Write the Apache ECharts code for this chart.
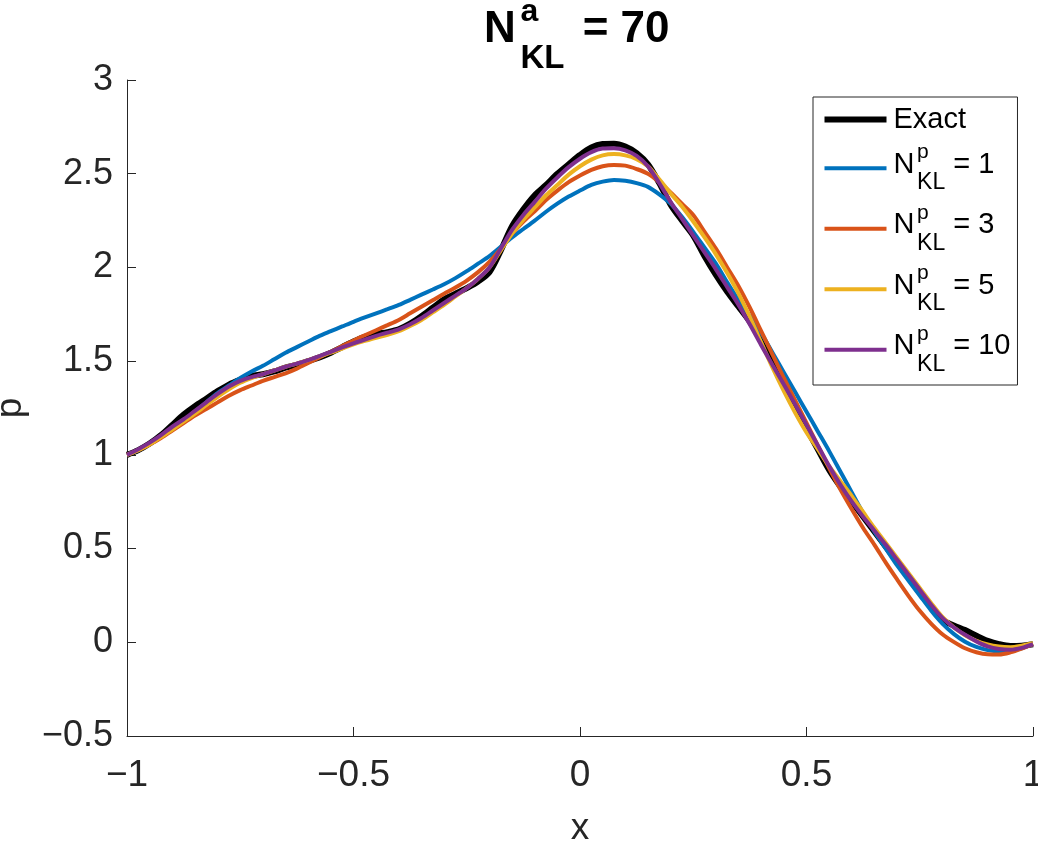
<!DOCTYPE html>
<html><head><meta charset="utf-8">
<script src="https://cdn.jsdelivr.net/npm/echarts@6/dist/echarts.min.js"></script>
<style>html,body{margin:0;padding:0;background:#fff}#c{width:1038px;height:844px}</style>
</head><body><div id="c"></div>
<script>
// ---- data (x step 0.025) ----
const xs = [-1,-0.975,-0.95,-0.925,-0.9,-0.875,-0.85,-0.825,-0.8,-0.775,-0.75,-0.725,-0.7,-0.675,-0.65,-0.625,-0.6,-0.575,-0.55,-0.525,
            -0.5,-0.475,-0.45,-0.425,-0.4,-0.375,-0.35,-0.325,-0.3,-0.275,-0.25,-0.225,-0.2,-0.175,-0.15,-0.125,-0.1,-0.075,-0.05,-0.025,
            0,0.025,0.05,0.075,0.1,0.125,0.15,0.175,0.2,0.225,0.25,0.275,0.3,0.325,0.35,0.375,0.4,0.425,0.45,0.475,
            0.5,0.525,0.55,0.575,0.6,0.625,0.65,0.675,0.7,0.725,0.75,0.775,0.8,0.825,0.85,0.875,0.9,0.925,0.95,0.975,1];
const exact = [1.00,1.025,1.06,1.105,1.16,1.215,1.26,1.30,1.34,1.375,1.40,1.42,1.43,1.445,1.465,1.48,1.50,1.52,1.545,1.575,
               1.605,1.63,1.645,1.655,1.67,1.70,1.74,1.785,1.83,1.86,1.89,1.925,1.975,2.09,2.22,2.31,2.385,2.44,2.50,2.55,
               2.60,2.64,2.658,2.66,2.645,2.61,2.55,2.45,2.335,2.25,2.17,2.06,1.96,1.87,1.79,1.71,1.61,1.495,1.375,1.255,
               1.14,1.03,0.92,0.83,0.75,0.67,0.59,0.51,0.43,0.35,0.27,0.19,0.12,0.09,0.065,0.035,0.008,-0.01,-0.02,-0.018,-0.01];
const np1 = [1.00,1.025,1.06,1.10,1.14,1.185,1.23,1.28,1.33,1.37,1.41,1.445,1.475,1.51,1.545,1.575,1.605,1.635,1.66,1.685,
             1.71,1.733,1.755,1.777,1.80,1.827,1.855,1.882,1.91,1.943,1.98,2.02,2.06,2.11,2.16,2.205,2.25,2.297,2.34,2.378,
             2.41,2.44,2.458,2.467,2.462,2.45,2.43,2.39,2.34,2.27,2.19,2.105,2.02,1.92,1.825,1.74,1.65,1.545,1.44,1.335,
             1.23,1.125,1.02,0.91,0.80,0.69,0.59,0.50,0.41,0.33,0.25,0.17,0.10,0.045,0.003,-0.025,-0.042,-0.049,-0.046,-0.032,-0.01];
const np3 = [1.00,1.025,1.055,1.09,1.13,1.17,1.21,1.245,1.28,1.315,1.345,1.37,1.395,1.415,1.435,1.46,1.49,1.52,1.55,1.58,
             1.61,1.638,1.665,1.692,1.72,1.755,1.79,1.825,1.86,1.893,1.93,1.975,2.03,2.10,2.18,2.245,2.30,2.36,2.41,2.455,
             2.49,2.52,2.54,2.547,2.543,2.525,2.50,2.455,2.40,2.34,2.28,2.19,2.10,2.00,1.90,1.785,1.66,1.535,1.41,1.29,
             1.17,1.05,0.93,0.815,0.71,0.61,0.52,0.425,0.335,0.248,0.168,0.10,0.043,0.002,-0.032,-0.053,-0.064,-0.065,-0.054,-0.034,-0.01];
const np5 = [1.00,1.025,1.055,1.095,1.135,1.178,1.22,1.265,1.31,1.35,1.385,1.41,1.43,1.45,1.47,1.487,1.505,1.525,1.545,1.567,
             1.59,1.608,1.625,1.64,1.66,1.688,1.72,1.76,1.80,1.845,1.89,1.94,2.00,2.09,2.18,2.255,2.32,2.385,2.44,2.495,
             2.54,2.575,2.598,2.605,2.598,2.578,2.54,2.47,2.395,2.325,2.245,2.16,2.07,1.97,1.86,1.735,1.60,1.465,1.34,1.225,
             1.12,1.03,0.94,0.86,0.78,0.695,0.61,0.53,0.45,0.37,0.29,0.21,0.135,0.08,0.038,0.008,-0.012,-0.023,-0.026,-0.018,-0.005];
const np10 = [1.00,1.03,1.065,1.105,1.15,1.19,1.235,1.28,1.325,1.365,1.395,1.415,1.43,1.45,1.47,1.487,1.505,1.527,1.55,1.573,
              1.595,1.615,1.635,1.652,1.67,1.697,1.73,1.77,1.81,1.85,1.89,1.94,2.00,2.10,2.20,2.28,2.35,2.42,2.48,2.535,
              2.58,2.615,2.634,2.636,2.625,2.595,2.54,2.45,2.35,2.26,2.17,2.08,1.99,1.895,1.80,1.695,1.585,1.48,1.375,1.268,
              1.16,1.05,0.94,0.84,0.75,0.67,0.595,0.52,0.44,0.36,0.28,0.20,0.13,0.08,0.04,0.005,-0.022,-0.036,-0.04,-0.03,-0.01];
const seriesNames = ['Exact','N1','N3','N5','N10'];
const legendCounts = {N1:'1', N3:'3', N5:'5', N10:'10'};
const xTickLabels = ['\u22121','\u22120.5','0','0.5','1'];
const yTickLabels = ['\u22120.5','0','0.5','1','1.5','2','2.5','3'];
const titleText = {base:'N', sup:'a', sub:'KL', rest:' = 70'};

// ---- chart ----
const FONT = "'Liberation Sans', Arial, Helvetica, sans-serif";
const colors = ['#000000','#0072BD','#D95319','#EDB120','#7E2F8E'];
const widths = [6,4,4,4,4];
const datasets = [exact,np1,np3,np5,np10];
const zip = arr => xs.map((x,i)=>[x,arr[i]]);

const chart = echarts.init(document.getElementById('c'), null, {renderer:'canvas'});
chart.setOption({
  animation:false,
  backgroundColor:'#ffffff',
  title:{
    text:'{n|'+titleText.base+'}{sup|'+titleText.sup+'}{sub|'+titleText.sub+'}{n|'+titleText.rest+'}',
    left:484, top:2, padding:0,
    textStyle:{
      fontFamily:FONT, fontWeight:'bold', color:'#000',
      rich:{
        n:{fontFamily:FONT,fontWeight:'bold',fontSize:44,color:'#000',verticalAlign:'top',height:56},
        sup:{fontFamily:FONT,fontWeight:'bold',fontSize:32,color:'#000',verticalAlign:'top',height:21,width:0.1,padding:[0,0,0,4.6]},
        sub:{fontFamily:FONT,fontWeight:'bold',fontSize:33,color:'#000',verticalAlign:'bottom',height:22,lineHeight:68,padding:[0,6,0,0]}
      }
    }
  },
  legend:{
    orient:'vertical', left:813, top:97,
    padding:[8,7,9,8.5],
    itemWidth:62, itemHeight:14, itemGap:8,
    borderColor:'#262626', borderWidth:1, backgroundColor:'#ffffff',
    data:seriesNames.map((nm,i)=>({name:nm, itemStyle:{opacity:0},
      lineStyle:{width:widths[i], color:colors[i], opacity:1}})),
    formatter:function(name){
      if(name==='Exact') return '{e|Exact}';
      return '{n|N}{sup|p}{sub|KL}{r| = '+legendCounts[name]+'}';
    },
    textStyle:{
      fontFamily:FONT, fontSize:29, color:'#000', lineHeight:28,
      rich:{
        e:{fontFamily:FONT,fontSize:29,color:'#000',padding:[0,0,0,2]},
        n:{fontFamily:FONT,fontSize:29,color:'#000',verticalAlign:'top',height:43,padding:[0,0,0,2]},
        sup:{fontFamily:FONT,fontSize:21,color:'#000',verticalAlign:'top',height:18.6,width:0.1,padding:[0,0,0,2.5]},
        sub:{fontFamily:FONT,fontSize:23,color:'#000',verticalAlign:'bottom',height:20.4,lineHeight:50},
        r:{fontFamily:FONT,fontSize:29,color:'#000',verticalAlign:'top',height:43}
      }
    }
  },
  grid:{left:127,right:5,top:80,bottom:108,containLabel:false,outerBoundsMode:'none'},
  xAxis:{
    type:'value', min:-1, max:1, interval:0.5,
    axisLine:{onZero:false,lineStyle:{color:'#262626',width:1}},
    axisTick:{inside:true,length:9,lineStyle:{color:'#262626',width:1}},
    splitLine:{show:false},
    axisLabel:{fontFamily:FONT,fontSize:37,color:'#262626',margin:21,showMinLabel:true,showMaxLabel:true,
      formatter:v=>xTickLabels[Math.round((v+1)/0.5)]},
    name:'x', nameLocation:'middle', nameGap:74,
    nameTextStyle:{fontFamily:FONT,fontSize:37,color:'#262626'}
  },
  yAxis:{
    type:'value', min:-0.5, max:3, interval:0.5,
    axisLine:{show:true,onZero:false,lineStyle:{color:'#262626',width:1}},
    axisTick:{show:true,inside:true,length:9,lineStyle:{color:'#262626',width:1}},
    splitLine:{show:false},
    axisLabel:{fontFamily:FONT,fontSize:36,color:'#262626',margin:14,showMinLabel:true,showMaxLabel:true,
      formatter:v=>yTickLabels[Math.round((v+0.5)/0.5)]},
    name:'p', nameLocation:'middle', nameGap:98, nameRotate:90,
    nameTextStyle:{fontFamily:FONT,fontSize:37,color:'#262626'}
  },
  series: seriesNames.map((nm,i)=>({
    name:nm, type:'line', data:zip(datasets[i]),
    symbol:'none', showSymbol:false, smooth:0.3,
    lineStyle:{color:colors[i],width:widths[i]},
    itemStyle:{color:colors[i]},
    z:2+i
  }))
});
</script></body></html>
